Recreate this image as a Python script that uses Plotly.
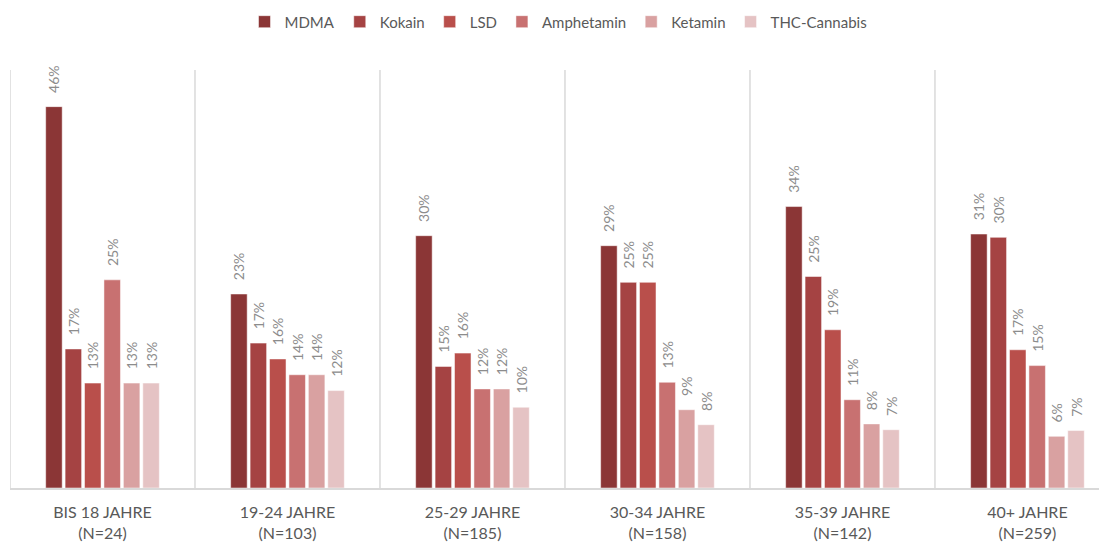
import plotly.graph_objects as go

categories = ["BIS 18 JAHRE<br>(N=24)", "19-24 JAHRE<br>(N=103)", "25-29 JAHRE<br>(N=185)",
              "30-34 JAHRE<br>(N=158)", "35-39 JAHRE<br>(N=142)", "40+ JAHRE<br>(N=259)"]

mdma = [45.8, 23.3, 30.3, 29.1, 33.8, 30.5]
kokain = [16.7, 17.4, 14.6, 24.7, 25.4, 30.1]
lsd = [12.6, 15.5, 16.2, 24.7, 19.0, 16.6]
amphetamin = [25.0, 13.6, 11.9, 12.7, 10.6, 14.7]
ketamin = [12.6, 13.6, 11.9, 9.4, 7.7, 6.2]
thc = [12.6, 11.7, 9.7, 7.6, 7.0, 6.9]

series_names = ["MDMA", "Kokain", "LSD", "Amphetamin", "Ketamin", "THC-Cannabis"]
series_values = [mdma, kokain, lsd, amphetamin, ketamin, thc]
colors = ["#8B3636", "#A54343", "#B94F4B", "#C87171", "#D9A1A1", "#E5C3C4"]

FONT = "Lato"
fig = go.Figure()
x_idx = list(range(len(categories)))
for name, vals, col in zip(series_names, series_values, colors):
    fig.add_trace(go.Bar(
        name=name, x=x_idx, y=vals,
        marker=dict(color=col, line=dict(color="white", width=0.5)),
        texttemplate="\u00a0\u00a0\u00a0%{y:.0f}%", textposition="outside", textangle=-90,
        constraintext="none",
        textfont=dict(family=FONT, size=14, color="#8C8C8C"),
        cliponaxis=False, hoverinfo="skip",
    ))

shapes = []
for k in range(len(categories)):
    shapes.append(dict(type="line", xref="x", yref="paper", x0=k - 0.5, x1=k - 0.5,
                       y0=0, y1=1, line=dict(color="#D9D9D9", width=1.5)))

fig.update_layout(
    width=1099, height=536,
    margin=dict(l=2, r=0, t=62, b=56, autoexpand=False),
    paper_bgcolor="white", plot_bgcolor="white",
    barmode="group", bargap=0.37, bargroupgap=0.15,
    showlegend=True,
    legend=dict(orientation="h", x=0.5, xanchor="center", y=1.115, yanchor="middle",
                font=dict(family=FONT, size=15, color="#595959"), traceorder="normal"),
    xaxis=dict(tickmode="array", tickvals=x_idx, ticktext=categories,
               range=[-0.5, 5.43], showgrid=False, zeroline=False, automargin=False,
               showline=True, linecolor="#D9D9D9", linewidth=1.5, ticks="",
               ticklabelstandoff=9,
               tickfont=dict(family=FONT, size=16, color="#595959")),
    yaxis=dict(range=[0, 50.2], visible=False, automargin=False),
    shapes=shapes,
)

fig.write_html("out.html")
